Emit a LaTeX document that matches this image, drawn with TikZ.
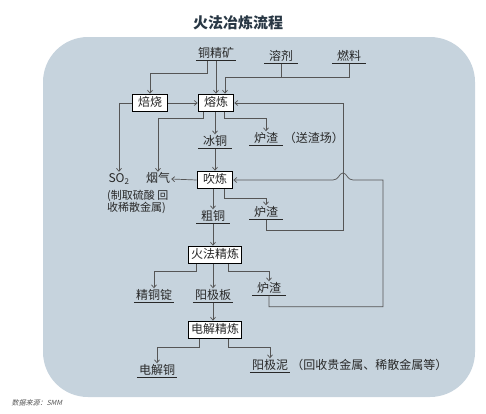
\documentclass[tikz,border=0pt]{standalone}
\usepackage{fontspec}
\setmainfont{Noto Sans CJK SC}
\newfontfamily\srcfont{Noto Sans CJK SC}[FakeSlant=0.25]
\definecolor{smbg}{RGB}{198, 211, 221}
\definecolor{smline}{RGB}{85, 85, 85}
\definecolor{smtext}{RGB}{40, 40, 40}
\definecolor{smtitle}{RGB}{40, 55, 68}
\usepackage{tikz}
\usetikzlibrary{arrows.meta, positioning}

\begin{document}
\begin{tikzpicture}[x=1pt, y=-1pt,
    stage/.style={draw=black, line width=1.6pt, fill=white, inner xsep=2.5pt,
                  inner ysep=2.5pt, minimum width=35pt, text height=9.5pt, text depth=2.5pt,
                  font=\fontsize{12}{13}\selectfont, text=smtext},
    prod/.style={inner xsep=2pt, inner ysep=1pt, minimum width=33pt,
                 text height=9.5pt, text depth=2.5pt,
                 font=\fontsize{12}{13}\selectfont, text=smtext},
    note/.style={inner sep=1pt, text height=9.5pt, text depth=2.5pt,
                 font=\fontsize{12}{13}\selectfont, text=smtext},
    flow/.style={-{Straight Barb[length=3pt, width=5pt]}, smline, line width=0.7pt},
    wire/.style={smline, line width=0.7pt}]
  \useasboundingbox (0,0) rectangle (486,413);
  % Background panel and titles
  \fill[smbg, rounded corners=45pt] (43,37) rectangle (475,397);
  \node[font=\fontsize{15}{16}\selectfont\bfseries, text=smtitle] (title) at (238,23) {火法冶炼流程};
  \node[anchor=west, font=\srcfont\fontsize{7}{8}\selectfont, text=smline] (source) at (8,403) {数据来源：SMM};

  % Raw materials
  \node[prod] (ore) at (216,53.5) {铜精矿};
  \node[prod] (flux) at (281,56.5) {溶剂};
  \node[prod] (fuel) at (349,56.5) {燃料};

  % Process stages
  \node[stage] (roast) at (150,103) {焙烧};
  \node[stage] (smelt) at (216,103) {熔炼};
  \node[stage] (convert) at (215,180) {吹炼};
  \node[stage] (fire) at (215,255) {火法精炼};
  \node[stage] (electro) at (215,330) {电解精炼};

  % Products
  \node[note] (so2) at (119,179) {SO\textsubscript{2}};
  \node[anchor=north west, align=left, inner sep=0pt, text=smtext,
        font=\fontsize{11}{11.5}\selectfont] (so2use)
    at (107,190) {(制取硫酸 回\\收稀散金属)};
  \node[note] (fume) at (158,179) {烟气};
  \node[prod] (matte) at (215,141.5) {冰铜};
  \node[prod] (slag1) at (266,138.5) {炉渣};
  \node[note, right=0pt of slag1] (slag1use) {（送渣场）};
  \node[prod] (blister) at (213,216.5) {粗铜};
  \node[prod] (slag2) at (266,212.5) {炉渣};
  \node[prod] (ingot) at (154,295.5) {精铜锭};
  \node[prod] (anode) at (213,295.5) {阳极板};
  \node[prod] (slag3) at (269,288.5) {炉渣};
  \node[prod] (cathode) at (157,370.5) {电解铜};
  \node[prod] (slime) at (270,365.5) {阳极泥};
  \node[note, right=0pt of slime] (slimeuse) {（回收贵金属、稀散金属等）};

  \foreach \p in {ore, flux, fuel, matte, slag1, blister, slag2, ingot, anode, slag3, cathode, slime}
    \draw[smtext, line width=0.8pt] (\p.south west) -- (\p.south east);

  % Feed lines
  \draw[flow] ([xshift=-9pt]ore.south) -- ++(0,13) -| (roast.north);
  \draw[flow] (ore.south) -- (smelt.north);
  \draw[flow] (fuel.south) -- ++(0,14) coordinate (feed) -| ([xshift=9pt]smelt.north);
  \draw[wire] (flux.south) -- (flux.south |- feed);
  \draw[flow] (roast.east) -- (smelt.west);
  \draw[flow] (roast.west) -| (so2.north);

  % Smelting outputs
  \draw[flow] ([xshift=-13pt]smelt.south) -- ++(0,6.5) -| (fume.north);
  \draw[flow] (smelt.south -| matte) -- (matte.north);
  \draw[flow] ([xshift=8pt]smelt.south) -- ++(0,6.5) -| (slag1.north);
  \draw[flow] (matte.south) -- (convert.north);

  % Converting outputs
  \draw[flow] (convert.west) -- (fume.east);
  \draw[flow] (convert.south -| blister) -- (blister.north);
  \draw[flow] ([xshift=9pt]convert.south) -- ++(0,9) -| (slag2.north);
  \draw[flow] (slag2.south) -- ++(0,11) -| (343,103) -- (smelt.east);

  % Fire refining
  \draw[flow] (blister.south) -- (blister.south |- fire.north);
  \draw[flow] ([xshift=-19pt]fire.south) -- ++(0,7) -| (ingot.north);
  \draw[flow] (fire.south -| anode) -- (anode.north);
  \draw[flow] ([xshift=13pt]fire.south) -- ++(0,7) -| (slag3.north);
  \draw[flow] (slag3.south) -- ++(0,11) -| (383,180) -- (353,180)
    .. controls (347,180) and (347,173) .. (343,173)
    .. controls (339,173) and (339,180) .. (333,180) -- (convert.east);

  % Electrolytic refining
  \draw[flow] (anode.south) -- (anode.south |- electro.north);
  \draw[flow] ([xshift=-16pt]electro.south) -- ++(0,8) -| (cathode.north);
  \draw[flow] ([xshift=13pt]electro.south) -- ++(0,8) -| (slime.north);
\end{tikzpicture}
\end{document}
